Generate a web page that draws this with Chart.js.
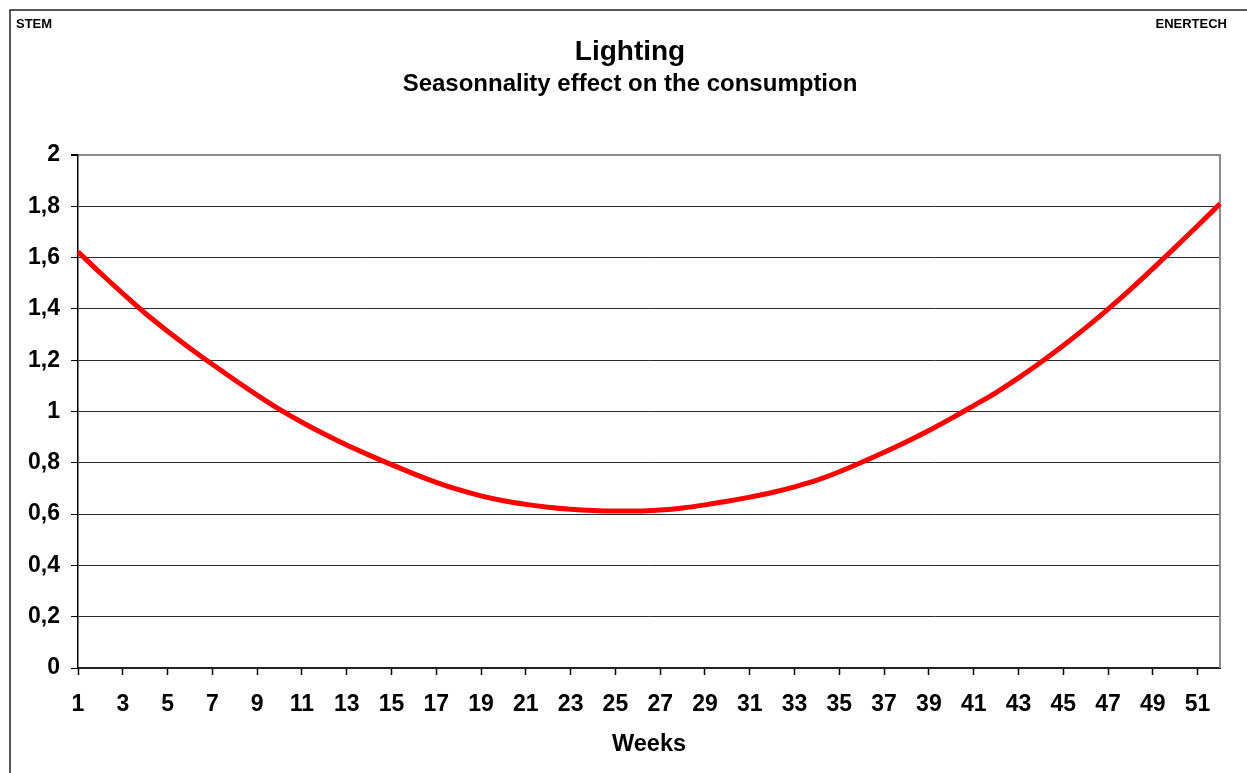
<!DOCTYPE html>
<html>
<head>
<meta charset="utf-8">
<title>Lighting - Seasonnality effect on the consumption</title>
<script src="https://cdn.jsdelivr.net/npm/chart.js@4.4.1/dist/chart.umd.min.js"></script>
<style>
  html, body { margin: 0; padding: 0; background: #ffffff; }
  #wrap { position: relative; width: 1247px; height: 773px; }
</style>
</head>
<body>
<div id="wrap"><canvas id="chart"></canvas></div>
<script>
// ---- Data ----
const weeks = [1,2,3,4,5,6,7,8,9,10,11,12,13,14,15,16,17,18,19,20,21,22,23,24,25,26,
               27,28,29,30,31,32,33,34,35,36,37,38,39,40,41,42,43,44,45,46,47,48,49,50,51,52];
const consumptionFactor = [
  1.623, 1.540, 1.460, 1.383, 1.313, 1.247, 1.184, 1.123, 1.064, 1.008,
  0.958, 0.912, 0.869, 0.830, 0.793, 0.757, 0.724, 0.695, 0.671, 0.652,
  0.638, 0.627, 0.619, 0.614, 0.612, 0.612, 0.616, 0.624, 0.636, 0.650,
  0.666, 0.684, 0.706, 0.732, 0.765, 0.802, 0.841, 0.882, 0.926, 0.973,
  1.023, 1.074, 1.131, 1.192, 1.257, 1.326, 1.399, 1.476, 1.557, 1.640,
  1.724, 1.810
];
const xTickLabels = ['1','3','5','7','9','11','13','15','17','19','21','23','25',
                     '27','29','31','33','35','37','39','41','43','45','47','49','51'];
const yTickLabels = ['0','0,2','0,4','0,6','0,8','1','1,2','1,4','1,6','1,8','2'];
const titleText = 'Lighting';
const subtitleText = 'Seasonnality effect on the consumption';
const xAxisTitle = 'Weeks';
const cornerLeft = 'STEM';
const cornerRight = 'ENERTECH';

const FONT = '"Liberation Sans", Arial, Helvetica, sans-serif';

// ---- Decorations plugin: outer frame, corner labels, titles, plot frame ----
const decorations = {
  id: 'decorations',
  beforeDraw(chart) {
    const ctx = chart.ctx;
    ctx.save();
    ctx.fillStyle = '#ffffff';
    ctx.fillRect(0, 0, chart.width, chart.height);
    // outer frame (left + top edges visible)
    ctx.strokeStyle = '#222222';
    ctx.lineWidth = 1.5;
    ctx.beginPath();
    ctx.moveTo(10, chart.height + 2);
    ctx.lineTo(10, 10);
    ctx.lineTo(chart.width + 2, 10);
    ctx.stroke();
    // corner labels
    ctx.fillStyle = '#000000';
    ctx.font = 'bold 13px ' + FONT;
    ctx.textBaseline = 'alphabetic';
    ctx.textAlign = 'left';
    ctx.fillText(cornerLeft, 16, 28);
    ctx.textAlign = 'right';
    ctx.fillText(cornerRight, 1227, 28);
    // titles
    ctx.textAlign = 'center';
    ctx.font = 'bold 28px ' + FONT;
    ctx.fillText(titleText, 630, 60);
    ctx.font = 'bold 24px ' + FONT;
    ctx.fillText(subtitleText, 630, 91);
    ctx.restore();
  },
  beforeDatasetsDraw(chart) {
    const {ctx, chartArea} = chart;
    ctx.save();
    ctx.strokeStyle = '#8c8c8c';
    ctx.lineWidth = 2;
    ctx.beginPath();
    ctx.moveTo(chartArea.right, chartArea.top - 1);
    ctx.lineTo(chartArea.right, chartArea.bottom);
    ctx.stroke();
    ctx.restore();
  }
};

new Chart(document.getElementById('chart'), {
  type: 'line',
  data: {
    labels: weeks,
    datasets: [{
      label: 'Seasonnality',
      data: consumptionFactor,
      borderColor: '#ff0000',
      borderWidth: 5,
      pointRadius: 0,
      pointHoverRadius: 0,
      fill: false,
      cubicInterpolationMode: 'monotone'
    }]
  },
  options: {
    responsive: true,
    maintainAspectRatio: false,
    animation: false,
    events: [],
    layout: { padding: { left: 10, top: 155, right: 27, bottom: 0 } },
    plugins: {
      legend: { display: false },
      title: { display: false },
      tooltip: { enabled: false }
    },
    scales: {
      x: {
        type: 'category',
        offset: false,
        afterFit(scale) { scale.height = 105; },
        grid: {
          drawOnChartArea: false,
          drawTicks: true,
          tickLength: 7,
          tickColor: '#000000',
          tickWidth: 1.5
        },
        border: { display: true, color: '#222222', width: 2 },
        ticks: {
          autoSkip: false,
          maxRotation: 0,
          minRotation: 0,
          padding: 16,
          color: '#000000',
          font: { family: FONT, size: 23, weight: 'bold' },
          callback(value, index) {
            const w = String(weeks[index]);
            return xTickLabels.includes(w) ? w : null;
          }
        },
        title: {
          display: true,
          text: xAxisTitle,
          color: '#000000',
          font: { family: FONT, size: 23.5, weight: 'bold' },
          padding: { top: 0, bottom: 14 }
        }
      },
      y: {
        min: 0,
        max: 2,
        afterFit(scale) { scale.width = 68; },
        ticks: {
          stepSize: 0.2,
          padding: 11,
          color: '#000000',
          font: { family: FONT, size: 23, weight: 'bold' },
          callback(value, index) { return yTickLabels[index]; }
        },
        grid: {
          drawTicks: true,
          tickLength: 7,
          tickColor: '#000000',
          color(ctx) { return ctx.tick && Math.abs(ctx.tick.value - 2) < 1e-6 ? '#8c8c8c' : '#2a2a2a'; },
          lineWidth(ctx) { return ctx.tick && Math.abs(ctx.tick.value - 2) < 1e-6 ? 2 : 1; }
        },
        border: { display: true, color: '#000000', width: 1.5 }
      }
    }
  },
  plugins: [decorations]
});
</script>
</body>
</html>
